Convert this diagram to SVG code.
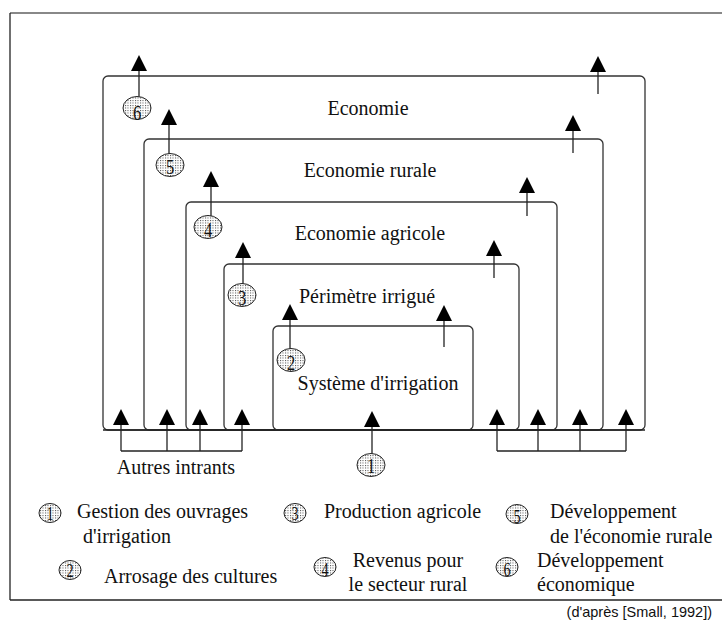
<svg xmlns="http://www.w3.org/2000/svg" width="722" height="627" viewBox="0 0 722 627">
<style>
.t{font-family:"Liberation Serif","Times New Roman",serif;font-size:20px;fill:#111}
.m{text-anchor:middle}
.n{font-family:"Liberation Serif","Times New Roman",serif;font-size:22px;fill:#111;text-anchor:middle}
.ln{font-family:"Liberation Serif","Times New Roman",serif;font-size:19px;fill:#111;text-anchor:middle}
.box{fill:none;stroke:#333;stroke-width:1.3}
.c{fill:url(#dots);stroke:#222;stroke-width:1}
.w{stroke:#222;stroke-width:1.3;fill:none}
.a{stroke:#222;stroke-width:1.3;fill:none;marker-end:url(#ah)}
.cap{font-family:"Liberation Sans",Arial,sans-serif;font-size:14.5px;fill:#111;text-anchor:end}
</style>
<defs>
<pattern id="dots" width="2.5" height="2.5" patternUnits="userSpaceOnUse">
<rect width="2.5" height="2.5" fill="#fff"/>
<rect width="1" height="1" fill="#444"/>
</pattern>
<marker id="ah" viewBox="0 -8 16 16" refX="0" refY="0" markerWidth="16" markerHeight="16" markerUnits="userSpaceOnUse" orient="auto">
<path d="M0,-8 L16,0 L0,8 Z" fill="#000"/>
</marker>
</defs>
<rect width="722" height="627" fill="#fff"/>
<g id="frame">
<line x1="10" y1="13" x2="722" y2="13" stroke="#888" stroke-width="2"/>
<line x1="10" y1="13" x2="10" y2="600" stroke="#222" stroke-width="1.3"/>
<line x1="10" y1="600" x2="722" y2="600" stroke="#222" stroke-width="1.3"/>
</g>
<g id="economie">
<rect class="box" x="103" y="76" width="542" height="354" rx="5"/>
<text class="t m" x="368" y="115">Economie</text>
</g>
<g id="economie-rurale">
<rect class="box" x="144" y="139" width="459" height="291" rx="5"/>
<text class="t m" x="370" y="177">Economie rurale</text>
</g>
<g id="economie-agricole">
<rect class="box" x="186" y="202" width="371" height="228" rx="5"/>
<text class="t m" x="370" y="240">Economie agricole</text>
</g>
<g id="perimetre-irrigue">
<rect class="box" x="224" y="264" width="295" height="166" rx="5"/>
<text class="t m" x="367" y="303">Périmètre irrigué</text>
</g>
<g id="systeme-irrigation">
<rect class="box" x="273" y="326" width="200" height="104" rx="5"/>
<text class="t m" x="378" y="390">Système d'irrigation</text>
</g>
<g id="connectors">
<line class="w" x1="103" y1="430" x2="645" y2="430"/>
<line class="a" x1="139" y1="97" x2="139" y2="71"/>
<line class="a" x1="169" y1="154" x2="169" y2="125"/>
<line class="a" x1="211" y1="216" x2="211" y2="187"/>
<line class="a" x1="243" y1="284" x2="243" y2="258"/>
<line class="a" x1="290" y1="349" x2="290" y2="320"/>
<line class="a" x1="372" y1="454" x2="372" y2="427"/>
<line class="a" x1="598" y1="94" x2="598" y2="72"/>
<line class="a" x1="573" y1="153" x2="573" y2="131"/>
<line class="a" x1="527" y1="216" x2="527" y2="193"/>
<line class="a" x1="494" y1="278" x2="494" y2="256"/>
<line class="a" x1="444" y1="347" x2="444" y2="321"/>
<path class="w" d="M121,451 H242"/>
<line class="a" x1="121" y1="451" x2="121" y2="425"/>
<line class="a" x1="167" y1="451" x2="167" y2="425"/>
<line class="a" x1="200" y1="451" x2="200" y2="425"/>
<line class="a" x1="242" y1="451" x2="242" y2="425"/>
<path class="w" d="M497,451 H626"/>
<line class="a" x1="497" y1="451" x2="497" y2="425"/>
<line class="a" x1="538" y1="451" x2="538" y2="425"/>
<line class="a" x1="580" y1="451" x2="580" y2="425"/>
<line class="a" x1="626" y1="451" x2="626" y2="425"/>
</g>
<g id="autres-intrants">
<text class="t m" x="176" y="474">Autres intrants</text>
</g>
<g id="n6"><ellipse class="c" cx="137" cy="108" rx="14" ry="11.5"/><text class="n" transform="translate(137,120) scale(0.75,1)">6</text></g>
<g id="n5"><ellipse class="c" cx="170" cy="165" rx="14" ry="11.5"/><text class="n" transform="translate(170,174) scale(0.75,1)">5</text></g>
<g id="n4"><ellipse class="c" cx="208" cy="227" rx="14" ry="11.5"/><text class="n" transform="translate(208,237) scale(0.75,1)">4</text></g>
<g id="n3"><ellipse class="c" cx="242" cy="295" rx="14" ry="11.5"/><text class="n" transform="translate(242,305) scale(0.75,1)">3</text></g>
<g id="n2"><ellipse class="c" cx="291" cy="360" rx="14" ry="11.5"/><text class="n" transform="translate(291,370) scale(0.75,1)">2</text></g>
<g id="n1"><ellipse class="c" cx="371" cy="465" rx="14" ry="11.5"/><text class="n" transform="translate(371,473) scale(0.75,1)">1</text></g>
<g id="legend">
<g id="leg1"><ellipse class="c" cx="50" cy="513" rx="11" ry="9.5"/><text class="ln" transform="translate(50,520) scale(0.75,1)">1</text>
<text class="t" x="77" y="518">Gestion des ouvrages</text><text class="t" x="83" y="543">d'irrigation</text></g>
<g id="leg2"><ellipse class="c" cx="70" cy="570" rx="11" ry="9.5"/><text class="ln" transform="translate(70,577) scale(0.75,1)">2</text>
<text class="t" x="104" y="583">Arrosage des cultures</text></g>
<g id="leg3"><ellipse class="c" cx="295" cy="513" rx="11" ry="9.5"/><text class="ln" transform="translate(295,520) scale(0.75,1)">3</text>
<text class="t" x="324" y="518">Production agricole</text></g>
<g id="leg4"><ellipse class="c" cx="325" cy="567" rx="11" ry="9.5"/><text class="ln" transform="translate(325,576) scale(0.75,1)">4</text>
<text class="t m" x="408" y="567">Revenus pour</text><text class="t m" x="408" y="591">le secteur rural</text></g>
<g id="leg5"><ellipse class="c" cx="517" cy="514" rx="11" ry="9.5"/><text class="ln" transform="translate(517,523) scale(0.75,1)">5</text>
<text class="t" x="550" y="518">Développement</text><text class="t" x="550" y="543">de l'économie rurale</text></g>
<g id="leg6"><ellipse class="c" cx="507" cy="567" rx="11" ry="9.5"/><text class="ln" transform="translate(507,576) scale(0.75,1)">6</text>
<text class="t" x="537" y="567">Développement</text><text class="t" x="537" y="591">économique</text></g>
</g>
<text class="cap" x="712" y="617">(d'après [Small, 1992])</text>
</svg>
